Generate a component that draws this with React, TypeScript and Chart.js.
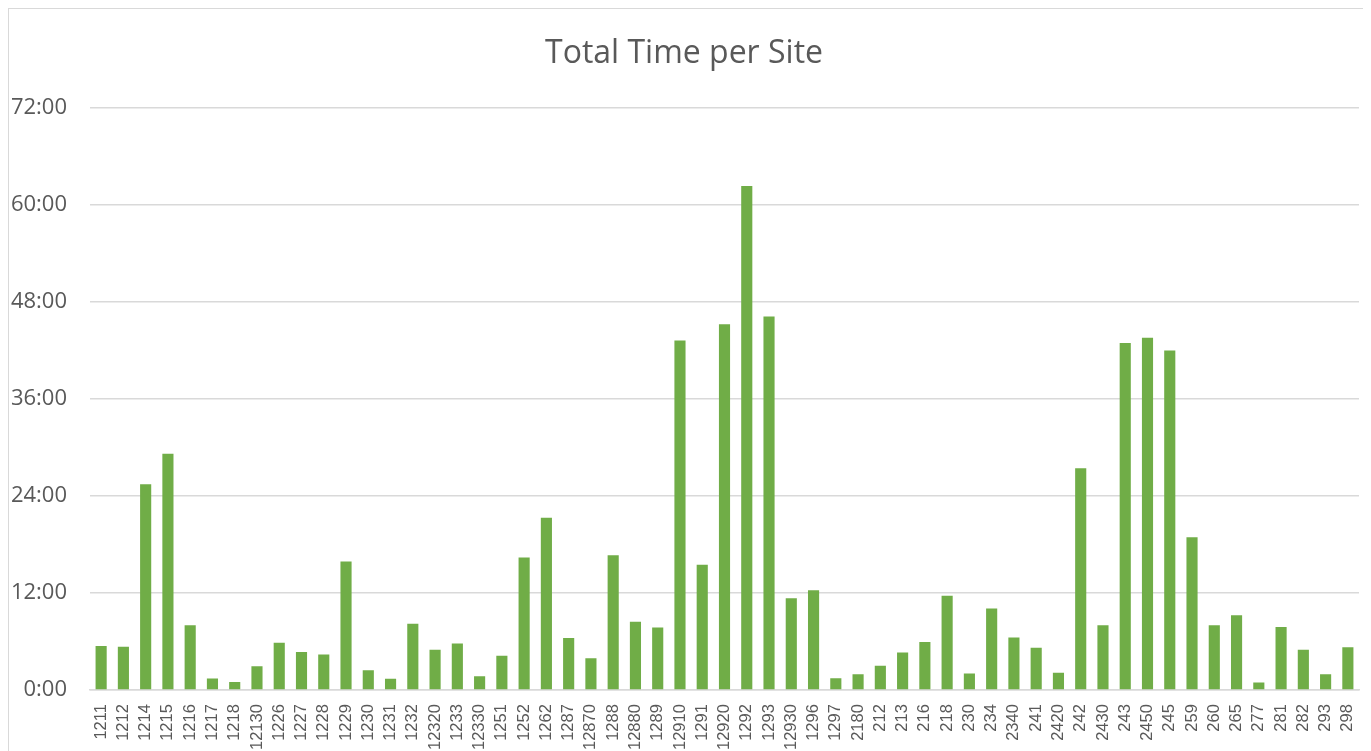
import React, { useEffect, useRef } from "react";
import { Chart, registerables } from "chart.js";

Chart.register(...registerables);

const sites: string[] = [
  "1211", "1212", "1214", "1215", "1216", "1217", "1218", "12130", "1226", "1227",
  "1228", "1229", "1230", "1231", "1232", "12320", "1233", "12330", "1251", "1252",
  "1262", "1287", "12870", "1288", "12880", "1289", "12910", "1291", "12920", "1292",
  "1293", "12930", "1296", "1297", "2180", "212", "213", "216", "218", "230",
  "234", "2340", "241", "2420", "242", "2430", "243", "2450", "245", "259",
  "260", "265", "277", "281", "282", "293", "298",
];

// total time in hours
const hours: number[] = [
  5.45, 5.35, 25.45, 29.2, 8.0, 1.45, 1.0, 2.95, 5.85, 4.7,
  4.4, 15.9, 2.45, 1.4, 8.2, 5.0, 5.75, 1.7, 4.25, 16.4,
  21.3, 6.45, 3.95, 16.65, 8.45, 7.75, 43.2, 15.5, 45.2, 62.3,
  46.15, 11.35, 12.35, 1.47, 1.95, 3.0, 4.65, 5.95, 11.65, 2.05,
  10.1, 6.5, 5.25, 2.15, 27.4, 8.0, 42.9, 43.55, 41.95, 18.9,
  8.0, 9.25, 0.95, 7.8, 5.0, 1.95, 5.3,
];

const yTicks: number[] = [0, 12, 24, 36, 48, 60, 72];

const TITLE = "Total Time per Site";
const TEXT_COLOR = "#595959";
const GRID_COLOR = "#d9d9d9";
const BAR_COLOR = "#70AD47";

export default function App() {
  const canvasRef = useRef<HTMLCanvasElement | null>(null);

  useEffect(() => {
    if (!canvasRef.current) return;
    const chart = new Chart(canvasRef.current, {
      type: "bar",
      data: {
        labels: sites,
        datasets: [
          {
            label: "Total Time",
            data: hours,
            backgroundColor: BAR_COLOR,
            borderWidth: 0,
            barPercentage: 0.5,
            categoryPercentage: 1.0,
          },
        ],
      },
      options: {
        animation: false,
        responsive: true,
        maintainAspectRatio: false,
        layout: { padding: { left: 0, right: 4, top: 0, bottom: 0 } },
        plugins: {
          legend: { display: false },
          tooltip: { enabled: false },
          title: {
            display: true,
            text: TITLE,
            color: TEXT_COLOR,
            font: { family: "'Open Sans', sans-serif", size: 32, weight: "normal" },
            padding: { top: 26, bottom: 34 },
          },
        },
        scales: {
          x: {
            afterFit: (scale: any) => {
              scale.paddingLeft = 0;
              scale.paddingRight = 0;
            },
            grid: { display: false, drawTicks: false },
            border: { display: true, color: GRID_COLOR, width: 1.5 },
            ticks: {
              autoSkip: false,
              minRotation: 90,
              maxRotation: 90,
              padding: 14,
              color: TEXT_COLOR,
              font: { family: "'Liberation Sans', Arial, sans-serif", size: 16.5 },
            },
          },
          y: {
            min: 0,
            max: 72,
            afterBuildTicks: (scale: any) => {
              scale.ticks = yTicks.map((v) => ({ value: v }));
            },
            afterFit: (scale: any) => {
              scale.width = 81;
            },
            grid: { color: GRID_COLOR, lineWidth: 1.5, drawTicks: false },
            border: { display: false },
            ticks: {
              padding: 23,
              color: TEXT_COLOR,
              font: { family: "'Open Sans', sans-serif", size: 22 },
              callback: (v: any) => `${v}:00`,
            },
          },
        },
      },
    });
    return () => chart.destroy();
  }, []);

  return (
    <div style={{ height: 743, overflow: "hidden" }}>
      <div
        style={{
          position: "relative",
          width: 1354,
          height: 755,
          border: `1px solid ${GRID_COLOR}`,
          background: "#fff",
        }}
      >
        <canvas ref={canvasRef} />
      </div>
    </div>
  );
}
